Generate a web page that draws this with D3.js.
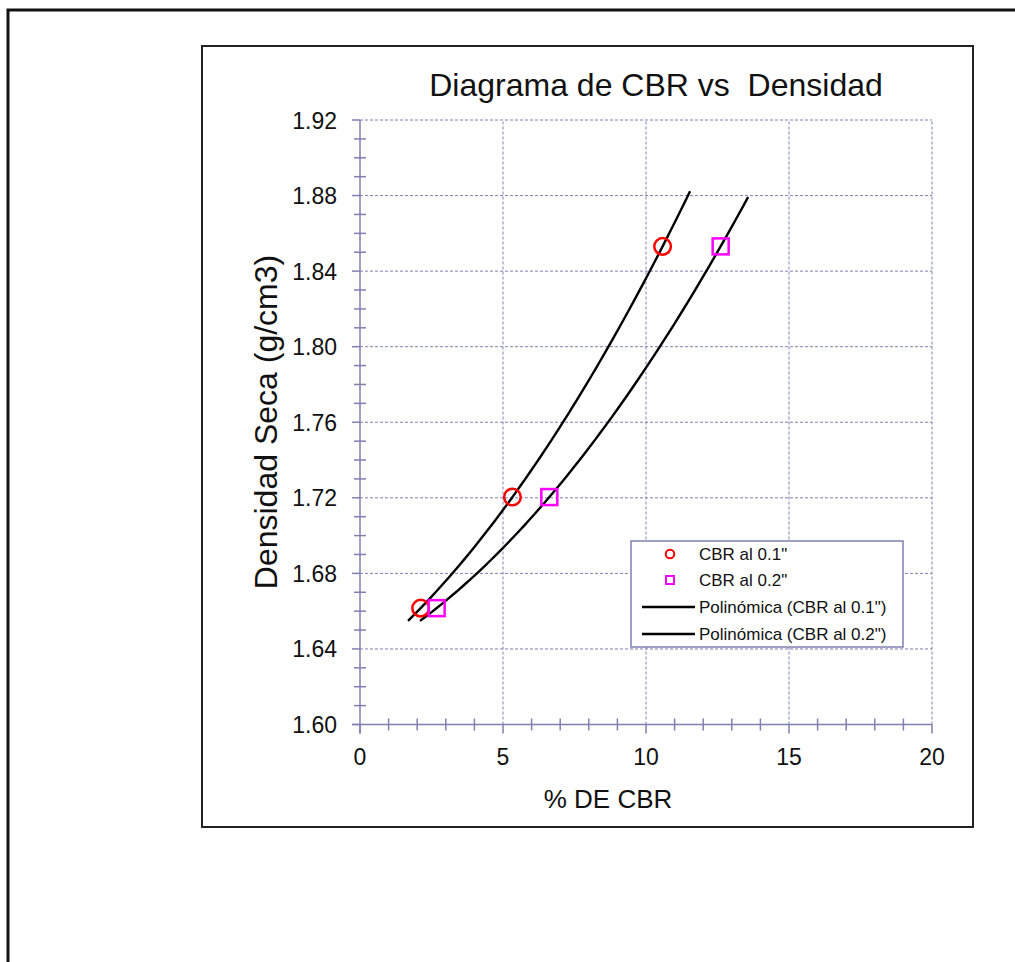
<!DOCTYPE html>
<html>
<head>
<meta charset="utf-8">
<script src="https://cdn.jsdelivr.net/npm/d3@7"></script>
<style>
  html, body { margin: 0; padding: 0; background: #fff; }
  svg { display: block; font-family: "Liberation Sans", Arial, sans-serif; }
</style>
</head>
<body>
<svg id="chart" width="1015" height="962"></svg>
<script>
// values
const densidad = [1.6616, 1.7204, 1.8531];
const cbr01 = [2.12, 5.33, 10.58];
const cbr02 = [2.68, 6.62, 12.61];
const trendRange01 = [1.68, 11.54];
const trendRange02 = [2.1, 13.57];
const xTicks = [0, 5, 10, 15, 20];
const yTicks = [1.60, 1.64, 1.68, 1.72, 1.76, 1.80, 1.84, 1.88, 1.92];
const legendLabels = ["CBR al 0.1\"", "CBR al 0.2\"", "Polinómica (CBR al 0.1\")", "Polinómica (CBR al 0.2\")"];

const axisColor = "#8080b0";
const svg = d3.select("#chart");

// outer frame (cut by the page edge) and chart box
svg.append("rect").attr("x", 8).attr("y", 10).attr("width", 1030).attr("height", 980)
  .attr("fill", "none").attr("stroke", "#111").attr("stroke-width", 3);
svg.append("rect").attr("x", 202).attr("y", 46).attr("width", 771).attr("height", 781)
  .attr("fill", "#fff").attr("stroke", "#222").attr("stroke-width", 2);

const x = d3.scaleLinear().domain([0, 20]).range([360, 932]);
const y = d3.scaleLinear().domain([1.60, 1.92]).range([724.5, 120]);

// dashed grid
svg.append("g")
  .selectAll("line.h")
  .data(yTicks.slice(1))
  .join("line")
  .attr("x1", x(0)).attr("x2", x(20))
  .attr("y1", (d) => y(d)).attr("y2", (d) => y(d))
  .attr("stroke", axisColor).attr("stroke-width", 1).attr("stroke-dasharray", "3,2");
svg.append("g")
  .selectAll("line.v")
  .data(xTicks.slice(1))
  .join("line")
  .attr("x1", (d) => x(d)).attr("x2", (d) => x(d))
  .attr("y1", y(1.60)).attr("y2", y(1.92))
  .attr("stroke", axisColor).attr("stroke-width", 1).attr("stroke-dasharray", "3,2");

// y axis with crossing minor ticks
const yMinor = d3.range(160, 193).map((v) => v / 100);
const yAxis = svg.append("g").attr("stroke", axisColor).attr("stroke-width", 1.5);
yAxis.append("line").attr("x1", x(0)).attr("x2", x(0)).attr("y1", y(1.92)).attr("y2", y(1.60) + 9);
yAxis.selectAll("line.minor")
  .data(yMinor)
  .join("line")
  .attr("x1", (d, i) => x(0) - (i % 4 === 0 ? 8 : 6))
  .attr("x2", (d, i) => x(0) + (i % 4 === 0 ? 0 : 6))
  .attr("y1", (d) => y(d)).attr("y2", (d) => y(d));

// x axis with crossing minor ticks
const xMinor = d3.range(0, 21);
const xAxis = svg.append("g").attr("stroke", axisColor).attr("stroke-width", 1.5);
xAxis.append("line").attr("x1", x(0) - 8).attr("x2", x(20)).attr("y1", y(1.60)).attr("y2", y(1.60));
xAxis.selectAll("line.minor")
  .data(xMinor)
  .join("line")
  .attr("x1", (d) => x(d)).attr("x2", (d) => x(d))
  .attr("y1", (d) => y(1.60) + (d % 5 === 0 ? 0 : -6))
  .attr("y2", (d) => y(1.60) + (d % 5 === 0 ? 9 : 6));

// tick labels
svg.append("g")
  .selectAll("text")
  .data(yTicks)
  .join("text")
  .attr("x", 337).attr("y", (d) => y(d) + 8.5)
  .attr("text-anchor", "end").attr("font-size", 23).attr("fill", "#111")
  .text((d) => d.toFixed(2));
svg.append("g")
  .selectAll("text")
  .data(xTicks)
  .join("text")
  .attr("x", (d) => x(d)).attr("y", 765)
  .attr("text-anchor", "middle").attr("font-size", 23).attr("fill", "#111")
  .text((d) => d);

// titles
svg.append("text").attr("x", 656).attr("y", 96).attr("text-anchor", "middle")
  .attr("font-size", 32).attr("fill", "#111").style("white-space", "pre")
  .text("Diagrama de CBR vs  Densidad");
svg.append("text").attr("x", 608).attr("y", 808).attr("text-anchor", "middle")
  .attr("font-size", 26).attr("fill", "#111").text("% DE CBR");
svg.append("text").attr("transform", "translate(277,422) rotate(-90)").attr("text-anchor", "middle")
  .attr("font-size", 32).attr("fill", "#111").text("Densidad Seca (g/cm3)");

// polynomial (2nd order) trendlines fitted to the points
function quadFit(xs, ys) {
  const [x0, x1, x2] = xs;
  const [y0, y1, y2] = ys;
  const f01 = (y1 - y0) / (x1 - x0);
  const f12 = (y2 - y1) / (x2 - x1);
  const f012 = (f12 - f01) / (x2 - x0);
  return (t) => y0 + f01 * (t - x0) + f012 * (t - x0) * (t - x1);
}
const trendLine = d3.line().x((d) => x(d[0])).y((d) => y(d[1]));
[[cbr01, trendRange01], [cbr02, trendRange02]].forEach(([xs, range]) => {
  const f = quadFit(xs, densidad);
  const pts = d3.range(0, 61).map((i) => {
    const t = range[0] + (range[1] - range[0]) * i / 60;
    return [t, f(t)];
  });
  svg.append("path").datum(pts).attr("d", trendLine)
    .attr("fill", "none").attr("stroke", "#000").attr("stroke-width", 2.4);
});

// markers
svg.append("g")
  .selectAll("circle")
  .data(cbr01.map((v, i) => [v, densidad[i]]))
  .join("circle")
  .attr("cx", (d) => x(d[0])).attr("cy", (d) => y(d[1])).attr("r", 8.3)
  .attr("fill", "none").attr("stroke", "#ff0000").attr("stroke-width", 2.5);
svg.append("g")
  .selectAll("rect")
  .data(cbr02.map((v, i) => [v, densidad[i]]))
  .join("rect")
  .attr("x", (d) => x(d[0]) - 8).attr("y", (d) => y(d[1]) - 8)
  .attr("width", 16).attr("height", 16)
  .attr("fill", "none").attr("stroke", "#ff00ff").attr("stroke-width", 2.5);

// legend
const legend = svg.append("g");
legend.append("rect").attr("x", 631).attr("y", 541).attr("width", 272).attr("height", 106)
  .attr("fill", "#fff").attr("stroke", axisColor).attr("stroke-width", 1.5);
const rowY = [554, 580, 607, 634];
legend.append("circle").attr("cx", 670).attr("cy", rowY[0]).attr("r", 4.3)
  .attr("fill", "none").attr("stroke", "#ff0000").attr("stroke-width", 2);
legend.append("rect").attr("x", 666).attr("y", rowY[1] - 4).attr("width", 8).attr("height", 8)
  .attr("fill", "none").attr("stroke", "#ff00ff").attr("stroke-width", 2);
[2, 3].forEach((i) => {
  legend.append("line").attr("x1", 642).attr("x2", 695).attr("y1", rowY[i]).attr("y2", rowY[i])
    .attr("stroke", "#000").attr("stroke-width", 2.4);
});
legend.selectAll("text")
  .data(legendLabels)
  .join("text")
  .attr("x", 699).attr("y", (d, i) => rowY[i] + 6)
  .attr("font-size", 17).attr("fill", "#111")
  .text((d) => d);
</script>
</body>
</html>
